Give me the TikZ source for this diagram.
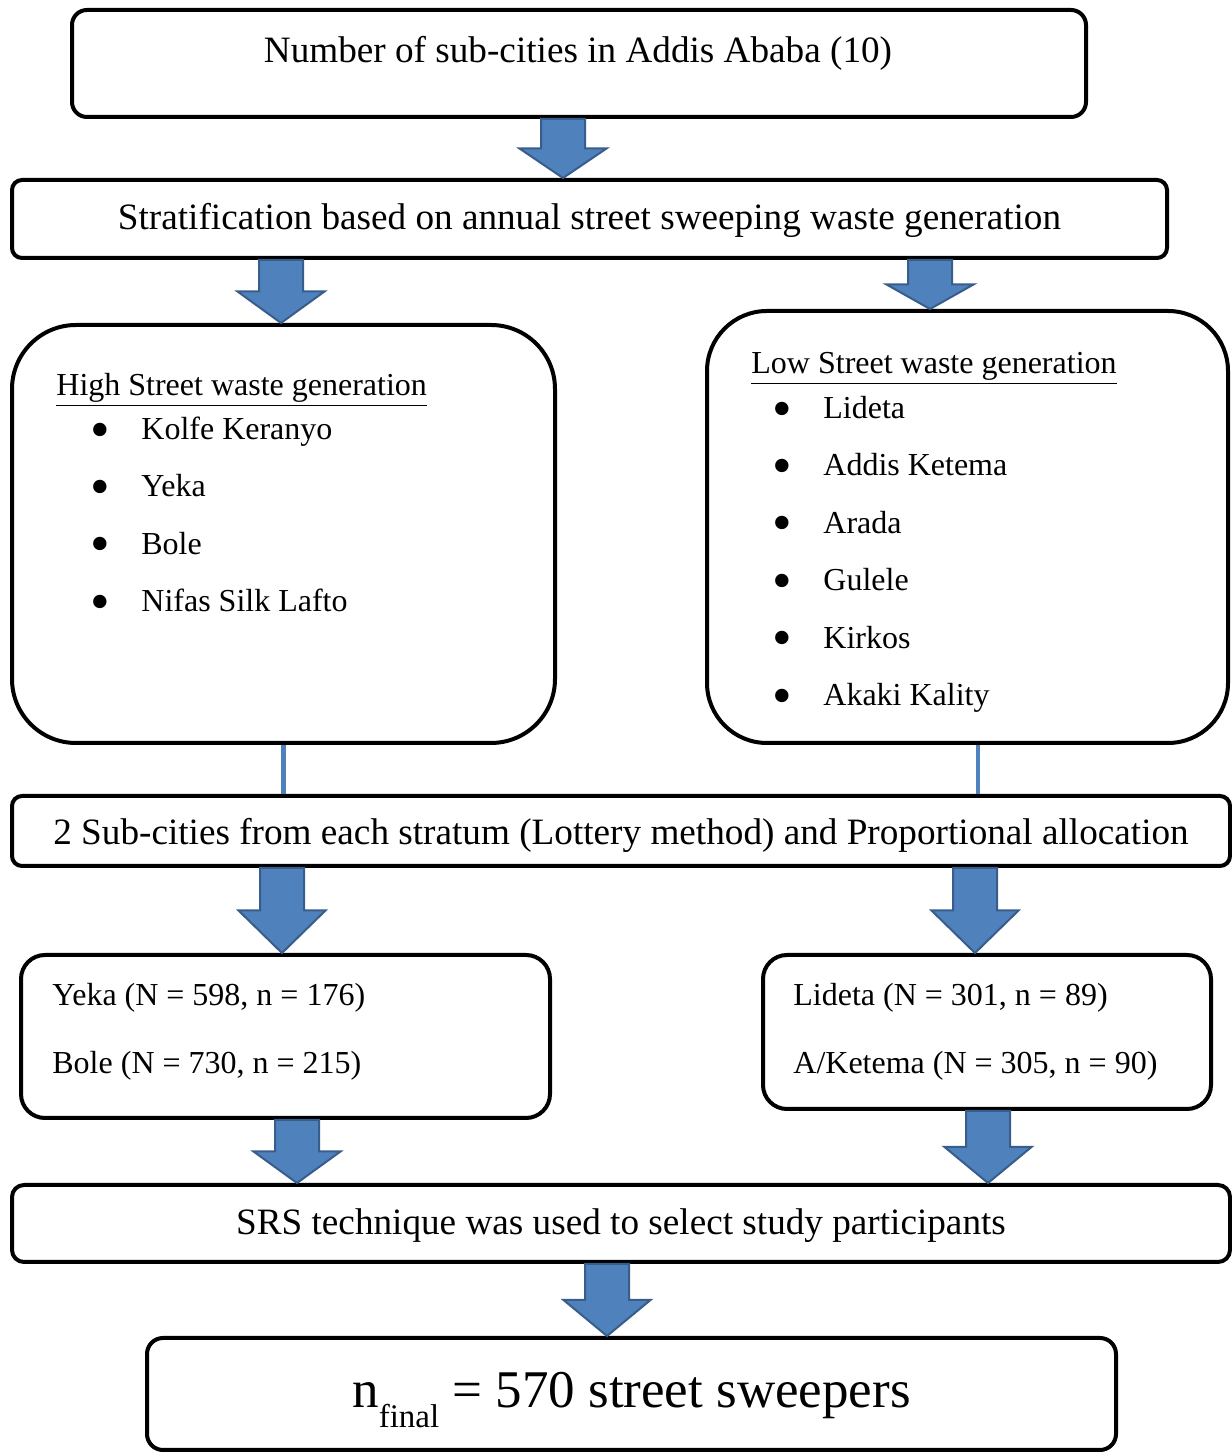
\documentclass[tikz,border=0pt]{standalone}
\usepackage{fontspec}
\setmainfont{Liberation Serif}
\usepackage{tikz}
\usetikzlibrary{positioning,calc}

\definecolor{arrowblue}{HTML}{4F81BD}
\definecolor{arrowedge}{HTML}{385D8A}

\newcommand{\mainsize}{\fontsize{18.6pt}{22.3pt}\selectfont}
\newcommand{\listsize}{\fontsize{16pt}{19.2pt}\selectfont}
\newcommand{\bulletitem}[1]{\hspace*{#1}\makebox[25.4pt][l]{\raisebox{-4.3pt}{\scalebox{1.75}{\textbullet}}}}

% block arrow: #1 x position, #2 upper node, #3 lower node
\newcommand{\blockarrow}[3]{%
  \filldraw[blockarrowstyle] let \p1=(#1,0), \p2=(#2.south), \p3=(#3.north),
      \n1={min(21.5pt,(\y2-\y3)/2)} in
    (\x1-11pt,\y2) -- (\x1+11pt,\y2) -- (\x1+11pt,\y3+\n1) -- (\x1+21.75pt,\y3+\n1)
    -- (\x1,\y3) -- (\x1-21.75pt,\y3+\n1) -- (\x1-11pt,\y3+\n1) -- cycle;}

\begin{document}
\begin{tikzpicture}[
    x=0.5pt, y=0.5pt,
    box/.style={draw, line width=2pt, rounded corners=7pt, fill=white, inner sep=0pt, align=center,
        font=\mainsize, text height=13pt, text depth=2pt},
    listbox/.style={box, rounded corners=32pt},
    numbox/.style={box, rounded corners=12pt},
    listtext/.style={inner sep=0pt, align=left, font=\listsize, anchor=north west},
    link/.style={draw=arrowblue, line width=2.2pt},
    blockarrowstyle/.style={fill=arrowblue, draw=arrowedge, line width=1pt, line join=miter}
]
    \useasboundingbox (0,0) rectangle (1232,1452);
    \clip (0,0) rectangle (1232,1452);

    % Population
    \node[box, rounded corners=7.5pt, minimum width=507pt, minimum height=53.5pt] (count) at (579,1388.5) {};
    \node[font=\mainsize, inner sep=0pt] (counttext) at (578,1399) {Number of sub-cities in Addis Ababa (10)};

    % Stratification
    \node[box, rounded corners=5pt, minimum width=577.5pt, minimum height=39pt] (strata) at (589.5,1233)
        {Stratification based on annual street sweeping waste generation};

    % Strata
    \node[listbox, minimum width=271.5pt, minimum height=209pt] (high) at (283.5,918) {};
    \node[listtext] (highlist) at (56,1079) {\underline{High Street waste generation}\\[2.8pt]
        \bulletitem{17.1pt}Kolfe Keranyo\\[9.5pt]
        \bulletitem{17.1pt}Yeka\\[9.5pt]
        \bulletitem{17.1pt}Bole\\[9.5pt]
        \bulletitem{17.1pt}Nifas Silk Lafto};

    \node[listbox, rounded corners=30pt, minimum width=260.5pt, minimum height=216pt] (low) at (967.5,925) {};
    \node[listtext] (lowlist) at (751,1100) {\underline{Low Street waste generation}\\[3.3pt]
        \bulletitem{10.6pt}Lideta\\[9.5pt]
        \bulletitem{10.6pt}Addis Ketema\\[9.5pt]
        \bulletitem{10.6pt}Arada\\[9.5pt]
        \bulletitem{10.6pt}Gulele\\[9.5pt]
        \bulletitem{10.6pt}Kirkos\\[9.5pt]
        \bulletitem{10.6pt}Akaki Kality};

    % Selection
    \node[box, rounded corners=5pt, minimum width=609pt, minimum height=35pt, text height=14pt, text depth=0pt] (lottery) at (621,621)
        {2 Sub-cities from each stratum (Lottery method) and Proportional allocation};

    % Samples
    \node[numbox, minimum width=264.5pt, minimum height=81.5pt] (highsample) at (285.5,415.5) {};
    \node[listtext, anchor=west] (highsampletext) at (52,420) {Yeka (N = 598, n = 176)\\[14.8pt]
        Bole (N = 730, n = 215)};
    \node[numbox, minimum width=224pt, minimum height=77pt] (lowsample) at (987,420) {};
    \node[listtext, anchor=west] (lowsampletext) at (793,420) {Lideta (N = 301, n = 89)\\[14.8pt]
        A/Ketema (N = 305, n = 90)};

    % SRS
    \node[box, rounded corners=6pt, minimum width=609pt, minimum height=38.5pt] (srs) at (621,228.5)
        {SRS technique was used to select study participants};

    % Final sample
    \node[box, rounded corners=8pt, minimum width=484.5pt, minimum height=56pt, text height=18pt, text depth=4pt] (final) at (631.5,58)
        {\fontsize{26.5pt}{32pt}\selectfont n\raisebox{-10pt}{\fontsize{16.5pt}{20pt}\selectfont final} = 570 street sweepers};

    % Thin links
    \coordinate (lowlink) at ($(low.south)+(10.5,0)$);
    \draw[link] (high.south) -- (high.south |- lottery.north);
    \draw[link] (lowlink) -- (lowlink |- lottery.north);

    % Block arrows
    \blockarrow{563}{count}{strata}
    \blockarrow{281}{strata}{high}
    \blockarrow{930}{strata}{low}
    \blockarrow{282}{lottery}{highsample}
    \blockarrow{975}{lottery}{lowsample}
    \blockarrow{297}{highsample}{srs}
    \blockarrow{988}{lowsample}{srs}
    \blockarrow{607}{srs}{final}
\end{tikzpicture}
\end{document}
